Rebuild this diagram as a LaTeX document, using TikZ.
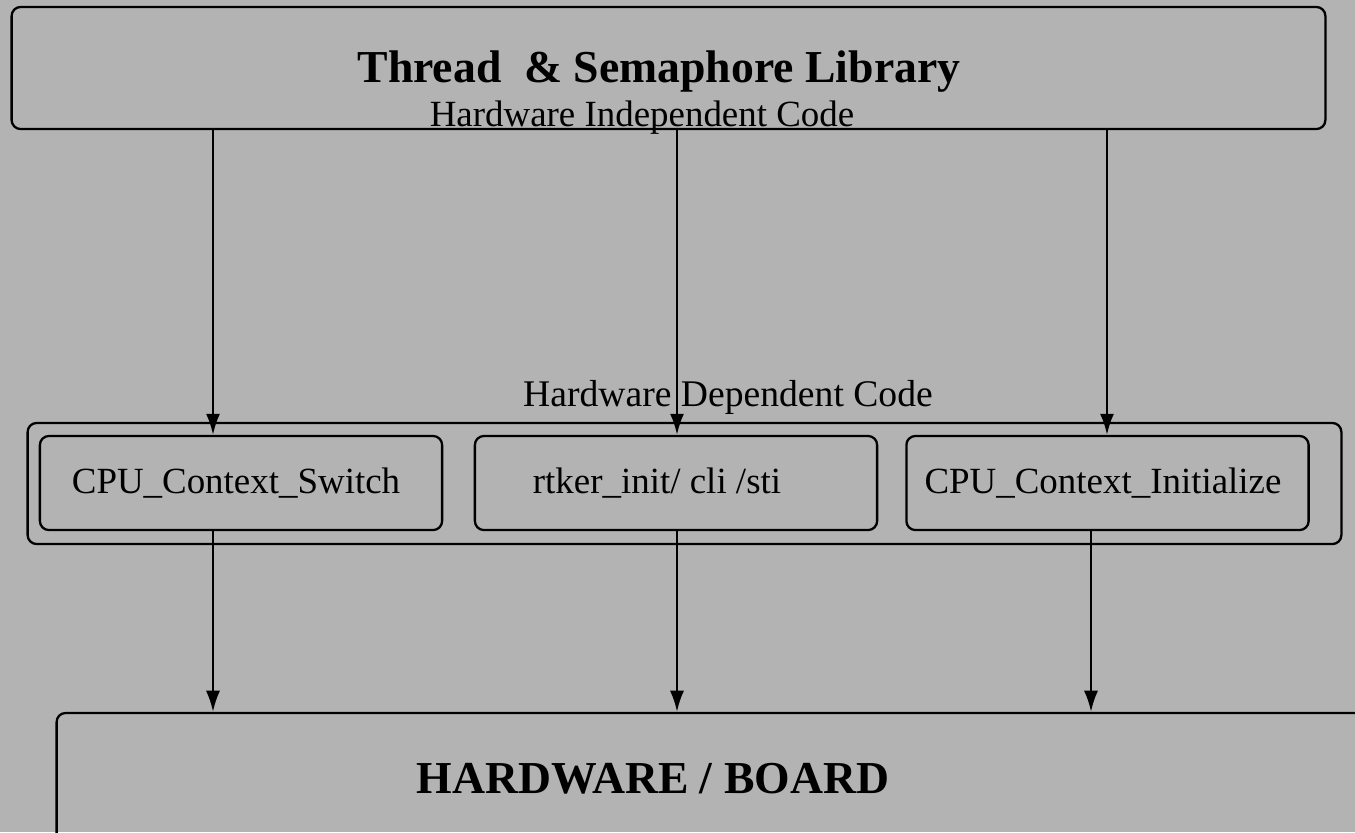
\documentclass[tikz,border=0pt]{standalone}
\usepackage{fontspec}
\setmainfont{Liberation Serif}
\usetikzlibrary{arrows.meta}
\definecolor{bggray}{HTML}{B3B3B3}

\begin{document}
\begin{tikzpicture}[x=0.01cm,y=-0.01cm,line width=0.65pt,
    box/.style={draw,rounded corners=0.09cm,inner sep=0pt},
    func/.style={box,minimum width=4.02cm,minimum height=0.94cm,
      font=\fontsize{10.5}{12}\selectfont},
    arr/.style={-{Latex[length=6pt,width=4pt]}}]
  \fill[bggray] (0,0) rectangle (1355,832);
  \useasboundingbox (0,0) rectangle (1355,832);
  \clip (0,0) rectangle (1355,832);
  % upper layer
  \node[box,minimum width=13.13cm,minimum height=1.22cm] (lib) at (668.5,68) {};
  \node[font=\fontsize{13}{15}\selectfont\bfseries] (libname) at (659,72)
    {Thread \ \& Semaphore Library};
  \node[font=\fontsize{10.5}{12}\selectfont] (indep) at (642,118)
    {Hardware Independent Code};
  % hardware dependent layer
  \node[box,minimum width=13.13cm,minimum height=1.21cm] (dep) at (684.5,483.5) {};
  \node[font=\fontsize{10.7}{12}\selectfont] (deplabel) at (728,397)
    {Hardware Dependent Code};
  \node[func] (sw) at (241,483) {\raisebox{-0.05cm}{CPU\_Context\_Switch}\hspace*{0.1cm}};
  \node[func] (rt) at (676,483) {\raisebox{-0.05cm}{rtker\_init/ cli /sti}\hspace*{0.38cm}};
  \node[func] (ini) at (1107.5,483) {\raisebox{-0.05cm}{CPU\_Context\_Initialize}\hspace*{0.09cm}};
  % board
  \node[box,minimum width=13.1cm,minimum height=1.3cm] (hw) at (712,778) {};
  \node[font=\fontsize{13}{15}\selectfont\bfseries] (hwname) at (653,779)
    {HARDWARE / BOARD};
  % calls
  \draw[arr] (lib.south -| 213,0) -- (sw.north -| 213,0);
  \draw[arr] (lib.south -| 677,0) -- (rt.north -| 677,0);
  \draw[arr] (lib.south -| 1107,0) -- (ini.north -| 1107,0);
  \draw[arr] (sw.south -| 213,0) -- (hw.north -| 213,0);
  \draw[arr] (rt.south -| 677,0) -- (hw.north -| 677,0);
  \draw[arr] (ini.south -| 1091,0) -- (hw.north -| 1091,0);
\end{tikzpicture}
\end{document}
